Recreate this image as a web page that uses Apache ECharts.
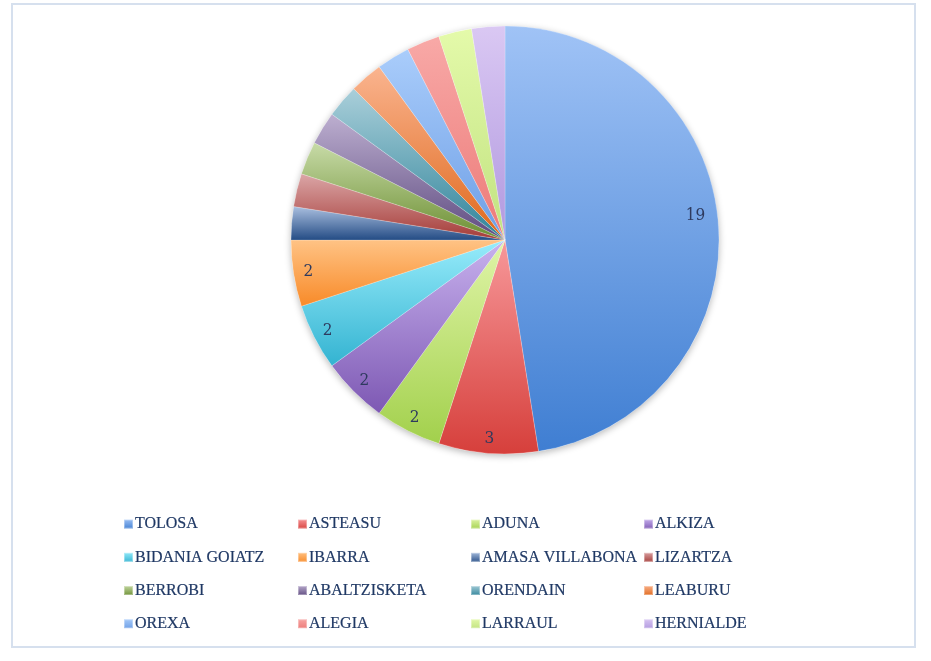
<!DOCTYPE html>
<html>
<head>
<meta charset="utf-8">
<script src="https://cdn.jsdelivr.net/npm/echarts@6/dist/echarts.min.js"></script>
<style>
html,body{margin:0;padding:0;background:#fff;}
#chart{width:931px;height:661px;}
</style>
</head>
<body>
<div id="chart"></div>
<script>
const categories = ['TOLOSA','ASTEASU','ADUNA','ALKIZA','BIDANIA GOIATZ','IBARRA','AMASA VILLABONA','LIZARTZA','BERROBI','ABALTZISKETA','ORENDAIN','LEABURU','OREXA','ALEGIA','LARRAUL','HERNIALDE'];
const values = [19,3,2,2,2,2,1,1,1,1,1,1,1,1,1,1];
const topColors = ['#A0C3F6','#F7989A','#E0F5A8','#C8B2EE','#98ECFB','#FFC385','#ABC0E0','#DBA6A7','#C8DBA8','#BDAFD0','#AACFDA','#FAB48F','#AACDFB','#F8A9A7','#E4FAAA','#DAC8F3'];
const bottomColors = ['#3F7ED2','#D63F3B','#A2D04C','#7D58B3','#33B3D1','#F88A28','#234B84','#A43A36','#6B8E31','#5D4A7F','#30849A','#DF681C','#6D9EE5','#EC7A78','#C1E280','#B199DF'];

const chart = echarts.init(document.getElementById('chart'));

function grad(i){
  return new echarts.graphic.LinearGradient(0,0,0,1,[
    {offset:0,color:topColors[i]},
    {offset:1,color:bottomColors[i]}
  ]);
}

const mainData = categories.map((n,i)=>({name:n,value:values[i],itemStyle:{color:grad(i)}}));
const labelData = categories.map((n,i)=>{
  const d = {name:n,value:values[i]};
  if(i===0) d.label = {offset:[-8,-9]};
  return d;
});

const cols = [[],[],[],[]];
categories.forEach((n,i)=>cols[i%4].push(n));
const colLeft = [123,297,470,643];

const legends = cols.map((c,k)=>({
  data:c,
  orient:'vertical',
  left:colLeft[k],
  top:516,
  padding:0,
  itemGap:17,
  itemWidth:9,
  itemHeight:9,
  icon:'rect',
  selectedMode:false,
  textStyle:{fontFamily:'Liberation Serif',fontSize:16,color:'#1F3864',textBorderColor:'#1F3864',textBorderWidth:0.2,padding:[0,0,0,-3]}
}));

chart.setOption({
  animation:false,
  backgroundColor:'#fff',
  graphic:[{type:'rect',shape:{x:12,y:4,width:903,height:643},style:{fill:'none',stroke:'#D6E0EE',lineWidth:2},z:-10}],
  legend:legends,
  series:[
    {
      type:'pie',
      center:[505,240],
      radius:214,
      silent:true,
      z:1,
      label:{show:false},
      labelLine:{show:false},
      data:[{name:'',value:1,itemStyle:{color:'#fff',shadowBlur:7,shadowOffsetY:2,shadowColor:'rgba(0,0,0,0.28)'}}]
    },
    {
      type:'pie',
      center:[505,240],
      radius:214,
      startAngle:90,
      clockwise:true,
      z:2,
      label:{show:false},
      labelLine:{show:false},
      itemStyle:{borderColor:'rgba(255,255,255,0.35)',borderWidth:0.6},
      emphasis:{disabled:true},
      data:mainData
    },
    {
      type:'pie',
      center:[505,240],
      radius:[178,214],
      startAngle:90,
      clockwise:true,
      z:3,
      silent:true,
      itemStyle:{color:'rgba(0,0,0,0)'},
      labelLine:{show:false},
      label:{
        show:true,
        position:'inside',
        fontFamily:'DejaVu Serif Condensed',
        fontSize:17,
        color:'#2E3A5E',
        formatter:p=>p.value>=2?String(p.value):''
      },
      emphasis:{disabled:true},
      data:labelData
    }
  ]
});
</script>
</body>
</html>
